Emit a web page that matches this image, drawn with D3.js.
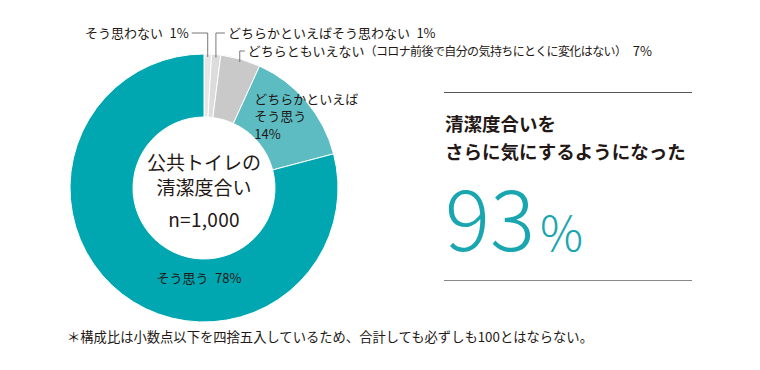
<!DOCTYPE html>
<html>
<head>
<meta charset="utf-8">
<script src="https://cdn.jsdelivr.net/npm/d3@7"></script>
<style>
  body { margin: 0; background: #fff; }
  svg { display: block; }
  text { font-family: "Noto Sans CJK JP", "Noto Sans", sans-serif; fill: #231815; }
</style>
</head>
<body>
<svg id="chart" width="760" height="370"></svg>
<script>
// answers, clockwise from 12 o'clock
const categories = ['そう思わない', 'どちらかといえばそう思わない', 'どちらともいえない', 'どちらかといえばそう思う', 'そう思う']
// printed (rounded) percentages
const labels = ['1%', '1%', '7%', '14%', '78%']
// slice shares as drawn in the picture
const shares = [0.9, 1.1, 4.8, 14.1, 79.1]
const colors = ['#e6e6e6', '#dcdcdc', '#c9c9c9', '#5cbcc2', '#00a6b0']

const centerTitle = ['公共トイレの', '清潔度合い']
const sampleSize = 'n=1,000'
const headline = ['清潔度合いを', 'さらに気にするようになった']
const total = '93'
const note = '＊構成比は小数点以下を四捨五入しているため、合計しても必ずしも100とはならない。'

const svg = d3.select('#chart')
const cx = 204
const cy = 188
const outerR = 134
const innerR = 71

const pie = d3.pie().sort(null).value(d => d)
const arcs = pie(shares)
const arc = d3.arc().innerRadius(innerR).outerRadius(outerR)

const g = svg.append('g').attr('transform', `translate(${cx},${cy})`)

g.selectAll('path')
  .data(arcs)
  .enter().append('path')
  .attr('d', arc)
  .attr('fill', (d, i) => colors[i])
  .attr('stroke', '#fff')
  .attr('stroke-width', 1)

// center text
let ct = g.append('text').attr('text-anchor', 'middle').attr('font-size', 19).attr('y', -18)
centerTitle.forEach((s, i) => {
  ct.append('tspan').attr('x', 0).attr('dy', i ? 25 : 0).text(s)
})
g.append('text').attr('text-anchor', 'middle').attr('y', 39).attr('font-size', 19)
  .attr('letter-spacing', 0.3).text(sampleSize)

// leader lines for the three small slices
function topPoint (d) {
  let a = (d.startAngle + d.endAngle) / 2
  return [Math.sin(a) * (outerR - 3), -Math.cos(a) * (outerR - 3)]
}
const leaders = [
  {i: 0, y: -155, dx: -16, anchor: 'end', text: [categories[0] + '\u2002' + labels[0]]},
  {i: 1, y: -155, dx: 9, anchor: 'start', text: [categories[1] + '\u2002' + labels[1]]},
  {i: 2, y: -137, dx: 5, anchor: 'start', text: [categories[2], '（コロナ前後で自分の気持ちにとくに変化はない）', '\u2002' + labels[2]]}
]
leaders.forEach(l => {
  let p = topPoint(arcs[l.i])
  g.append('path')
    .attr('d', `M${p[0]},${p[1]}V${l.y}H${p[0] + l.dx}`)
    .attr('fill', 'none')
    .attr('stroke', '#555')
    .attr('stroke-width', 0.8)
  let t = g.append('text')
    .attr('x', p[0] + l.dx + (l.dx < 0 ? -3 : 3))
    .attr('y', l.y)
    .attr('dy', '0.36em')
    .attr('text-anchor', l.anchor)
    .attr('font-size', 13)
  l.text.forEach((s, k) => {
    let ts = t.append('tspan').text(s)
    if (k === 1) ts.attr('font-size', 12).attr('letter-spacing', -0.6)
  })
})

// inside labels
let c4 = arc.centroid(arcs[3])
let t4 = g.append('text').attr('font-size', 13)
  .attr('x', c4[0] - 28).attr('y', c4[1] - 18)
t4.append('tspan').attr('x', c4[0] - 28).text('どちらかといえば')
t4.append('tspan').attr('x', c4[0] - 28).attr('dy', 17.5).text('そう思う')
t4.append('tspan').attr('x', c4[0] - 28).attr('dy', 17.5).text(labels[3])

g.append('text').attr('text-anchor', 'middle').attr('x', -5).attr('y', 95)
  .attr('font-size', 13).text(categories[4] + '\u2002' + labels[4])

// right panel
const right = svg.append('g')
right.append('line').attr('x1', 444).attr('x2', 692).attr('y1', 92.5).attr('y2', 92.5)
  .attr('stroke', '#555').attr('stroke-width', 1)
right.append('line').attr('x1', 444).attr('x2', 692).attr('y1', 280.5).attr('y2', 280.5)
  .attr('stroke', '#888').attr('stroke-width', 1)
let hl = right.append('text').attr('x', 445).attr('y', 131)
  .attr('font-size', 18.5).attr('font-weight', 700)
headline.forEach((t, i) => {
  hl.append('tspan').attr('x', 445).attr('dy', i ? 28 : 0).text(t)
})
let big = right.append('text').attr('x', 445).attr('y', 251)
  .attr('font-family', 'Lato, "Noto Sans", sans-serif')
  .attr('font-weight', 300)
  .style('fill', '#1aa6b0')
big.append('tspan').attr('font-size', 84).text(total)
big.append('tspan').attr('font-size', 48).attr('dx', 5).text('%')

svg.append('text').attr('x', 67).attr('y', 342).attr('font-size', 13.3).text(note)
</script>
</body>
</html>
